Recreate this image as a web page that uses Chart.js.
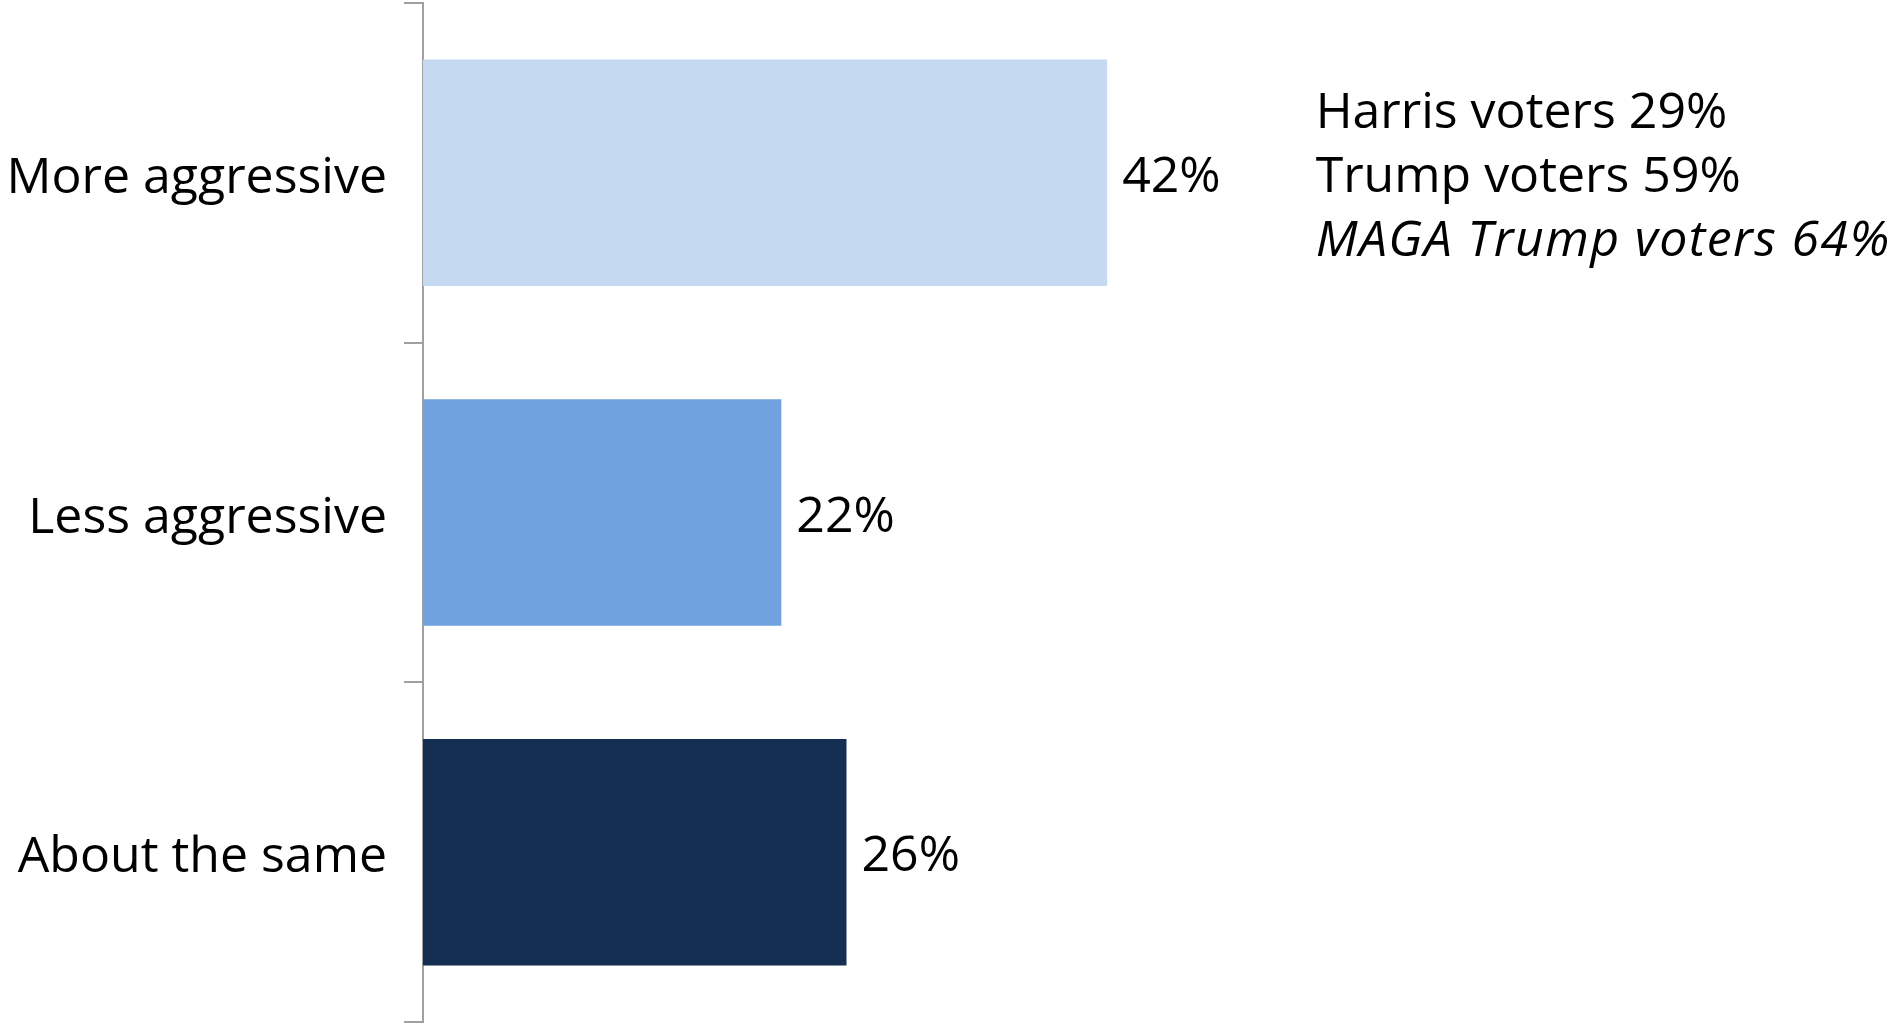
<!DOCTYPE html>
<html>
<head>
<meta charset="utf-8">
<script src="https://cdn.jsdelivr.net/npm/chart.js@4.4.1/dist/chart.umd.min.js"></script>
<style>
  html, body { margin: 0; padding: 0; background: #fff; overflow: hidden; }
  #wrap { width: 1891px; height: 1023px; }
</style>
</head>
<body>
<div id="wrap"><canvas id="chart" width="1891" height="1023"></canvas></div>
<script>
// ---------- data ----------
const categories = ["More aggressive", "Less aggressive", "About the same"];
const values = [42, 22, 26];
const barColors = ["#C5D9F1", "#6FA2DE", "#142F52"];
const noteLines = ["Harris voters 29%", "Trump voters 59%", "MAGA Trump voters 64%"];
const noteItalic = [false, false, true];
const noteAt = 54.8;   // x value where the side note starts

const FONT = "'Open Sans', 'Noto Sans', sans-serif";
const FONT_SIZE = 50;

// value labels at the end of each bar
const valueLabels = {
  id: "valueLabels",
  afterDatasetsDraw(chart) {
    const ctx = chart.ctx;
    const meta = chart.getDatasetMeta(0);
    ctx.save();
    ctx.font = FONT_SIZE + "px " + FONT;
    ctx.fillStyle = "#000";
    ctx.textAlign = "left";
    ctx.textBaseline = "middle";
    meta.data.forEach((bar, i) => {
      ctx.fillText(values[i] + "%", bar.x + 15, bar.y + 5);
    });
    ctx.restore();
  }
};

// side note next to the first bar
const sideNote = {
  id: "sideNote",
  afterDatasetsDraw(chart) {
    const ctx = chart.ctx;
    const x = chart.scales.x.getPixelForValue(noteAt);
    const yc = chart.scales.y.getPixelForValue(0);
    const lh = 64;
    ctx.save();
    ctx.fillStyle = "#000";
    ctx.textAlign = "left";
    ctx.textBaseline = "middle";
    noteLines.forEach((t, i) => {
      ctx.font = (noteItalic[i] ? "italic " : "") + FONT_SIZE + "px " + FONT;
      ctx.letterSpacing = noteItalic[i] ? "1.4px" : "0px";
      ctx.fillText(t, x, yc + 5 + (i - 1) * lh);
    });
    ctx.restore();
  }
};

new Chart(document.getElementById("chart"), {
  type: "bar",
  data: {
    labels: categories,
    datasets: [{
      data: values,
      backgroundColor: barColors,
      borderWidth: 0,
      categoryPercentage: 1,
      barPercentage: 0.667
    }]
  },
  options: {
    indexAxis: "y",
    responsive: false,
    animation: false,
    layout: { padding: { top: 3, bottom: 1, right: 2, left: 0 } },
    plugins: { legend: { display: false }, tooltip: { enabled: false } },
    scales: {
      x: { display: false, min: 0, max: 90 },
      y: {
        afterFit(s) {
          s.width = 423;
          s.paddingTop = 0;
          s.paddingBottom = 0;
        },
        border: { display: true, color: "#A0A0A0", width: 2 },
        grid: {
          offset: true,
          drawOnChartArea: false,
          drawTicks: true,
          tickLength: 19,
          color: "#A0A0A0",
          lineWidth: 2
        },
        ticks: {
          color: "#000",
          padding: 17,
          labelOffset: 6,
          font: { family: FONT, size: FONT_SIZE }
        }
      }
    }
  },
  plugins: [valueLabels, sideNote]
});
</script>
</body>
</html>
